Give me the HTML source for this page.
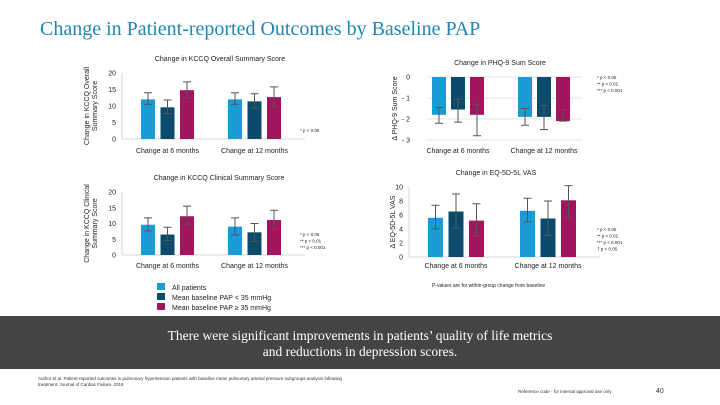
<!DOCTYPE html>
<html><head><meta charset="utf-8">
<style>
html,body{margin:0;padding:0;background:#fff;}
#wrap{position:relative;width:720px;height:405px;overflow:hidden;font-family:"Liberation Sans",sans-serif;}
#title{position:absolute;left:40px;top:18px;font-family:"Liberation Serif",serif;font-size:20px;color:#1f87b5;white-space:nowrap;}
#banner{position:absolute;left:0;top:316px;width:720px;height:53px;background:#444;color:#fff;font-family:"Liberation Serif",serif;font-size:13.5px;text-align:center;line-height:16px;padding-top:12px;box-sizing:border-box;}
svg text{font-family:"Liberation Sans",sans-serif;}
</style></head><body>
<div id="wrap">
<div id="title">Change in Patient-reported Outcomes by Baseline PAP</div>
<svg id="chart" width="720" height="405" style="position:absolute;left:0;top:0">
<g>
<rect x="157" y="283" width="8" height="7" fill="#1a9ad6"/>
<text x="172" y="290" font-size="7" fill="#222">All patients</text>
<rect x="157" y="293" width="8" height="7" fill="#0b4a6b"/>
<text x="172" y="300" font-size="7" fill="#222">Mean baseline PAP &lt; 35 mmHg</text>
<rect x="157" y="303" width="8" height="7" fill="#a0155e"/>
<text x="172" y="310" font-size="7" fill="#222">Mean baseline PAP ≥ 35 mmHg</text>
</g>
<text x="432" y="287" font-size="5" fill="#222">P-values are for within-group change from baseline</text>
<text x="38" y="380" font-size="4.5" fill="#333">Author et al. Patient-reported outcomes in pulmonary hypertension patients with baseline mean pulmonary arterial pressure subgroups analysis following</text>
<text x="38" y="386" font-size="4.5" fill="#333">treatment. Journal of Cardiac Failure. 2019</text>
<text x="518" y="393" font-size="4.5" fill="#333">Reference code - for internal approval use only</text>
<text x="656" y="393" font-size="7" fill="#333">40</text>
</svg>
<div id="banner">There were significant improvements in patients’ quality of life metrics<br>and reductions in depression scores.</div>
</div>
<script>
// ---- Data ----
const groups = ["Change at 6 months","Change at 12 months"];
const seriesNames = ["All patients","Mean baseline PAP < 35 mmHg","Mean baseline PAP ≥ 35 mmHg"];
const kccqOverallVals = [[12,9.6,14.8],[12,11.4,12.7]];
const kccqOverallLo = [[10.5,7.7,12.5],[10.5,9.4,9.8]];
const kccqOverallHi = [[14,11.8,17.3],[14,13.7,15.8]];
const kccqOverallTicks = [0,5,10,15,20];
const phqVals = [[-1.8,-1.55,-1.8],[-1.9,-1.9,-2.1]];
const phqLo = [[-2.2,-2.15,-2.8],[-2.3,-2.5,-2.1]];
const phqHi = [[-1.45,-1.05,-1.3],[-1.5,-1.35,-1.55]];
const phqTicks = [0,-1,-2,-3];
const kccqClinVals = [[9.6,6.5,12.3],[9,7.2,11.1]];
const kccqClinLo = [[7.6,4.6,9.8],[6.3,4.3,8.1]];
const kccqClinHi = [[11.8,8.8,15.5],[11.8,10,14.2]];
const kccqClinTicks = [0,5,10,15,20];
const eqVals = [[5.6,6.5,5.2],[6.6,5.5,8.1]];
const eqLo = [[4,4.1,3],[5,3.1,5.6]];
const eqHi = [[7.4,9,7.6],[8.4,8,10.2]];
const eqTicks = [0,2,4,6,8,10];

const colors = ["#1a9ad6","#0b4a6b","#a0155e"];
const NS="http://www.w3.org/2000/svg";
const svg=document.getElementById('chart');
function mk(tag,attrs,parent){const e=document.createElementNS(NS,tag);for(const k in attrs)e.setAttribute(k,attrs[k]);(parent||svg).appendChild(e);return e;}

function panel(cfg){
  const g=mk('g',{});
  
  
  const ymin=Math.min(...cfg.ticks), ymax=Math.max(...cfg.ticks);
  const y=v=>cfg.yTop+(ymax-v)/(ymax-ymin)*(cfg.yBot-cfg.yTop);
  const t=mk('text',{x:cfg.titleX,y:cfg.yTop-12,'font-size':7,fill:'#222','text-anchor':'middle'},g);
  t.textContent=cfg.title;
  
  
  const tickX = cfg.tickX!==undefined ? cfg.tickX : cfg.x0-6;
  cfg.ticks.forEach(v=>{
    if(cfg.grid){const l=mk('line',{x1:cfg.x0,x2:cfg.x1,y1:y(v),y2:y(v),stroke:'#ddd','stroke-width':0.8},g);
      
      }
    const tx=mk('text',{x:tickX,y:y(v)+2.5,'font-size':7,fill:'#222','text-anchor':'end'},g);
    tx.textContent=v===0?"0":String(v).replace('-','- ');
    
    
  });
  if(!cfg.grid){
    const ax=mk('line',{x1:cfg.x0,x2:cfg.x0,y1:cfg.yTop,y2:cfg.yBot,stroke:'#ccc','stroke-width':0.8},g);
    
    
    const bx=mk('line',{x1:cfg.x0,x2:cfg.x1,y1:y(0),y2:y(0),stroke:'#ccc','stroke-width':0.8},g);
    
    }
  const yl=mk('text',{x:0,y:0,'font-size':7,fill:'#222','text-anchor':'middle',transform:`translate(${cfg.ylx},${(cfg.yTop+cfg.yBot)/2}) rotate(-90)`},g);
  cfg.ylabel.forEach((s,i)=>{const ts=mk('tspan',{x:0,dy:i===0?(cfg.ylabel.length>1?-1:3):8},yl);ts.textContent=s;});
  
  
  groups.forEach((gn,gi)=>{
    cfg.vals[gi].forEach((v,si)=>{
      const bx=cfg.gx[gi]+si*cfg.step;
      const y0=y(0), yv=y(v);
      const r=mk('rect',{x:bx,y:Math.min(y0,yv),width:cfg.bw,height:Math.abs(yv-y0),fill:colors[si]},g);
      
      
      const cx=bx+cfg.bw/2, lo=y(cfg.lo[gi][si]), hi=y(cfg.hi[gi][si]);
      const e=mk('path',{d:`M${cx},${lo}V${hi}M${cx-4},${lo}H${cx+4}M${cx-4},${hi}H${cx+4}`,stroke:'#555','stroke-width':1,fill:'none'},g);
      
      
    });
    const lt=mk('text',{x:cfg.gx[gi]+cfg.step+cfg.bw/2,y:cfg.xlY,'font-size':7,fill:'#222','text-anchor':'middle'},g);
    lt.textContent=gn;
    
    
  });
  cfg.notes.forEach((n,i)=>{
    const nt=mk('text',{x:cfg.noteX,y:cfg.noteY+i*6.5,'font-size':4.5,fill:'#222'},g);
    nt.textContent=n;
    
    
  });
}
panel({name:'kccq-overall-panel',title:'Change in KCCQ Overall Summary Score',titleX:220,ticks:kccqOverallTicks,yTop:73,yBot:139,x0:122,x1:305,
  vals:kccqOverallVals,lo:kccqOverallLo,hi:kccqOverallHi,gx:[141,228],step:19.5,bw:14,grid:false,ylx:90,ylabel:['Change in KCCQ Overall','Summary Score'],
  xlY:153,notes:['* p < 0.05'],noteX:300,noteY:132});
panel({name:'phq9-panel',title:'Change in PHQ-9 Sum Score',titleX:500,ticks:phqTicks,yTop:77,yBot:140,x0:427,x1:582,tickX:410,
  vals:phqVals,lo:phqLo,hi:phqHi,gx:[432,518],step:19,bw:14,grid:true,ylx:394,ylabel:['Δ PHQ-9 Sum Score'],
  xlY:153,notes:['* p < 0.05','** p < 0.01','*** p < 0.001'],noteX:597,noteY:79});
panel({name:'kccq-clinical-panel',title:'Change in KCCQ Clinical Summary Score',titleX:219,ticks:kccqClinTicks,yTop:192,yBot:255,x0:122,x1:305,
  vals:kccqClinVals,lo:kccqClinLo,hi:kccqClinHi,gx:[141,228],step:19.5,bw:14,grid:false,ylx:90,ylabel:['Change in KCCQ Clinical','Summary Score'],
  xlY:268,notes:['* p < 0.05','** p < 0.01','*** p < 0.001'],noteX:300,noteY:236});
panel({name:'eq5d-vas-panel',title:'Change in EQ-5D-5L VAS',titleX:496,ticks:eqTicks,yTop:187,yBot:257,x0:409,x1:600,
  vals:eqVals,lo:eqLo,hi:eqHi,gx:[428,520],step:20.5,bw:15,grid:false,ylx:392,ylabel:['Δ EQ-5D-5L VAS'],
  xlY:268,notes:['* p < 0.05','** p < 0.01','*** p < 0.001','† p < 0.05'],noteX:597,noteY:231});
</script>
</body></html>
